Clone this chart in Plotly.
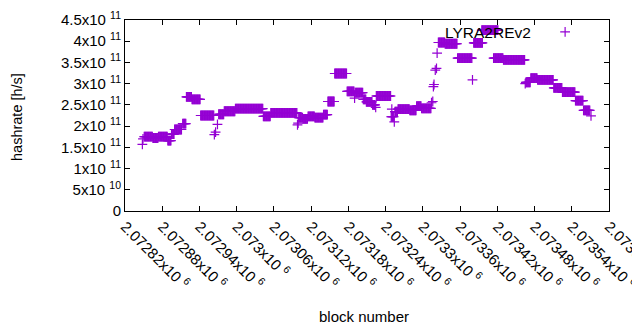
import plotly.graph_objects as go

# Run-length readings of the hashrate series: (first block, last block, hashrate)
seg_start = [2072851, 2072865, 2072874, 2072889, 2072895, 2072900, 2072913, 2072919, 2072928,
             2072942, 2072971, 2072980, 2072998, 2073043, 2073055, 2073100, 2073107, 2073115,
             2073126, 2073140, 2073147, 2073158, 2073178, 2073191, 2073204, 2073209, 2073219,
             2073225, 2073249, 2073255, 2073260, 2073279, 2073290, 2073298, 2073325, 2073336,
             2073356, 2073382, 2073395, 2073414, 2073430, 2073466, 2073474, 2073485, 2073511,
             2073525, 2073546, 2073559]
seg_end = [2072864, 2072873, 2072888, 2072894, 2072899, 2072911, 2072918, 2072927, 2072941,
           2072963, 2072979, 2072997, 2073042, 2073054, 2073097, 2073106, 2073114, 2073125,
           2073139, 2073146, 2073157, 2073177, 2073189, 2073203, 2073208, 2073218, 2073223,
           2073248, 2073253, 2073259, 2073278, 2073289, 2073297, 2073313, 2073335, 2073355,
           2073379, 2073396, 2073421, 2073429, 2073464, 2073473, 2073484, 2073510, 2073524,
           2073545, 2073558, 2073569]
seg_value = [1.75e11, 1.72e11, 1.75e11, 1.66e11, 1.81e11, 1.92e11, 2.06e11, 2.69e11, 2.63e11,
             2.25e11, 2.28e11, 2.35e11, 2.41e11, 2.23e11, 2.31e11, 2.20e11, 2.17e11, 2.23e11,
             2.20e11, 2.27e11, 2.58e11, 3.24e11, 2.82e11, 2.79e11, 2.63e11, 2.57e11, 2.50e11,
             2.71e11, 2.22e11, 2.34e11, 2.40e11, 2.37e11, 2.47e11, 2.42e11, 3.97e11, 3.94e11,
             3.60e11, 3.96e11, 4.26e11, 3.60e11, 3.56e11, 3.03e11, 3.13e11, 3.09e11, 2.90e11,
             2.80e11, 2.60e11, 2.37e11]

# Single blocks read individually
pt_block = [2072848, 2072849, 2072964, 2072966, 2072969, 2073098, 2073099, 2073190, 2073224,
            2073250, 2073254, 2073314, 2073316, 2073317, 2073318, 2073320, 2073322, 2073323,
            2073380, 2073465, 2073571]
pt_value = [1.57e11, 1.70e11, 1.80e11, 1.86e11, 2.04e11, 2.03e11, 2.07e11, 2.66e11, 2.44e11,
            2.40e11, 2.10e11, 2.55e11, 2.58e11, 2.93e11, 2.98e11, 3.32e11, 3.36e11, 3.72e11,
            3.09e11, 3.00e11, 2.24e11]

x_tick_vals = [2072820 + 60 * i for i in range(14)]
x_tick_text = ["2.07282x10 <sup>6</sup>", "2.07288x10 <sup>6</sup>", "2.07294x10 <sup>6</sup>",
               "2.073x10 <sup>6</sup>", "2.07306x10 <sup>6</sup>", "2.07312x10 <sup>6</sup>",
               "2.07318x10 <sup>6</sup>", "2.07324x10 <sup>6</sup>", "2.0733x10 <sup>6</sup>",
               "2.07336x10 <sup>6</sup>", "2.07342x10 <sup>6</sup>", "2.07348x10 <sup>6</sup>",
               "2.07354x10 <sup>6</sup>", "2.0736x10 <sup>6</sup>"]
y_tick_vals = [0, 5e10, 1e11, 1.5e11, 2e11, 2.5e11, 3e11, 3.5e11, 4e11, 4.5e11]
y_tick_text = ["0", "5x10 <sup>10</sup>", "1x10 <sup>11</sup>", "1.5x10 <sup>11</sup>",
               "2x10 <sup>11</sup>", "2.5x10 <sup>11</sup>", "3x10 <sup>11</sup>",
               "3.5x10 <sup>11</sup>", "4x10 <sup>11</sup>", "4.5x10 <sup>11</sup>"]

xs, ys = [], []
for s, e, v in zip(seg_start, seg_end, seg_value):
    for b in range(s, e + 1):
        xs.append(b)
        ys.append(v)
xs += pt_block
ys += pt_value

COLOR = "#9400d3"
FONT = "Liberation Sans, Arial, sans-serif"

fig = go.Figure()
fig.add_trace(go.Scatter(
    x=xs, y=ys, mode="markers", name=" ",
    marker=dict(symbol="cross-thin", size=7, line=dict(color=COLOR, width=1.2), color=COLOR),
    showlegend=True,
))

axis_common = dict(showline=True, linecolor="black", linewidth=1, mirror="ticks",
                   ticks="inside", ticklen=5, tickcolor="black", showgrid=False,
                   zeroline=False, ticklabeloverflow="allow",
                   tickfont=dict(family=FONT, size=15, color="black"))

# The page body keeps its default 8px margin, so the figure is sized 8px smaller
fig.update_layout(
    width=632, height=322,
    margin=dict(l=117, r=31, t=12, b=119, autoexpand=False),
    paper_bgcolor="white", plot_bgcolor="white",
    font=dict(family=FONT, size=15, color="black"),
    xaxis=dict(range=[2072820, 2073600], tickvals=x_tick_vals, ticktext=x_tick_text,
               tickangle=45, **axis_common),
    yaxis=dict(range=[0, 4.5e11], tickvals=y_tick_vals, ticktext=y_tick_text, **axis_common),
    legend=dict(x=0.868, y=0.937, xanchor="left", yanchor="middle",
                bgcolor="rgba(0,0,0,0)", font=dict(size=15)),
    annotations=[
        dict(text="LYRA2REv2", xref="paper", yref="paper", x=0.843, y=0.937,
             xanchor="right", yanchor="middle", showarrow=False, font=dict(size=15.5)),
        dict(text="hashrate [h/s]", xref="paper", yref="paper", x=-0.222, y=0.49,
             textangle=-90, xanchor="center", yanchor="middle", showarrow=False,
             font=dict(size=14.5)),
        dict(text="block number", xref="paper", yref="paper", x=0.494, y=-0.55,
             xanchor="center", yanchor="middle", showarrow=False, font=dict(size=15)),
    ],
)

fig.write_html("out.html")
